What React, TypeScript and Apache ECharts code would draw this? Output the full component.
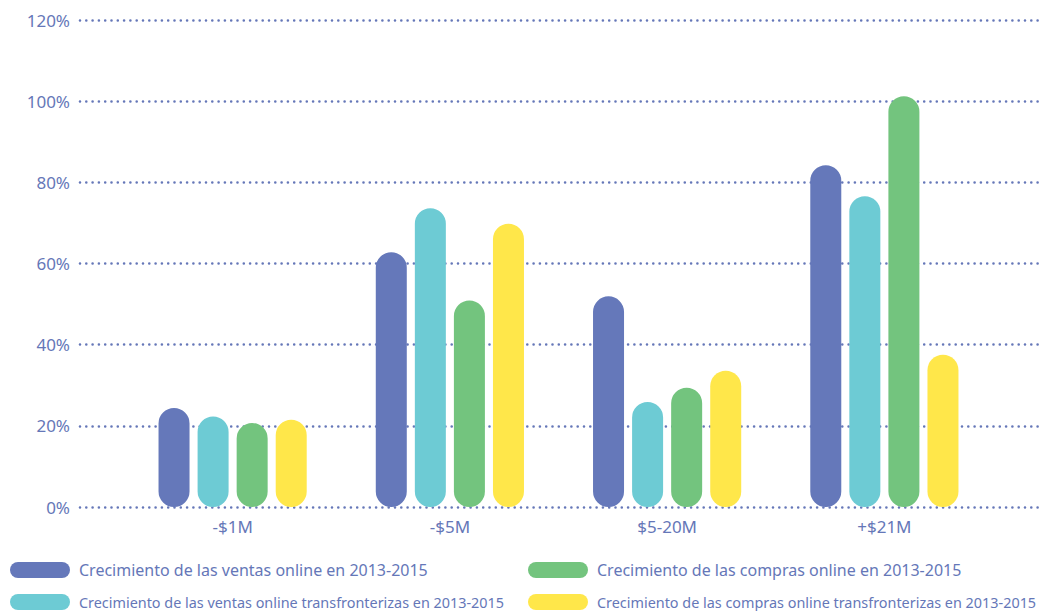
import React, { useEffect, useRef } from "react";
import * as echarts from "echarts";

const categories = ["-$1M", "-$5M", "$5-20M", "+$21M"];
const seriesNames = [
  "Crecimiento de las ventas online en 2013-2015",
  "Crecimiento de las ventas online transfronterizas en 2013-2015",
  "Crecimiento de las compras online en 2013-2015",
  "Crecimiento de las compras online transfronterizas en 2013-2015",
];
const ventas = [24.4, 62.8, 51.9, 84.2];
const ventasTransfronterizas = [22.3, 73.6, 25.9, 76.6];
const compras = [20.7, 50.9, 29.4, 101.2];
const comprasTransfronterizas = [21.5, 69.8, 33.6, 37.5];
const colors = ["#6578BA", "#6DCBD4", "#73C47E", "#FFE74A"];
const yTicks = [0, 20, 40, 60, 80, 100, 120];

const TEXT = "#6577B8";
const FONT = "'Noto Sans', sans-serif";
const pill = "path://M8,0 L52,0 A8,8 0 0 1 52,16 L8,16 A8,8 0 0 1 8,0 Z";

export default function App() {
  const ref = useRef<HTMLDivElement>(null);
  useEffect(() => {
    document.body.style.margin = "0";
    const chart = echarts.init(ref.current!, null, { renderer: "svg" });
    const data = [ventas, ventasTransfronterizas, compras, comprasTransfronterizas];
    const legendBase = {
      orient: "vertical",
      top: 562,
      padding: 0,
      itemWidth: 60,
      itemHeight: 16,
      itemGap: 16,
      icon: pill,
      textStyle: { color: TEXT, fontSize: 16, fontFamily: FONT, padding: [0, 0, 0, 4] },
    };
    const row1 = { color: TEXT, fontSize: 16, fontFamily: FONT };
    const row2 = { color: TEXT, fontSize: 14.4, fontFamily: FONT };
    chart.setOption({
      animation: false,
      textStyle: { fontFamily: FONT },
      grid: [
        { left: 80, right: 10, top: 20, bottom: 104 },
        { left: 124, right: 57, top: 20, bottom: 104 },
      ],
      xAxis: [
        { type: "value", gridIndex: 0, show: false, min: 0, max: 1 },
        {
          type: "category",
          gridIndex: 1,
          data: categories,
          axisLine: { show: false },
          axisTick: { show: false },
          axisLabel: { color: TEXT, fontSize: 17, margin: 11, fontFamily: FONT },
        },
      ],
      yAxis: [
        {
          type: "value",
          gridIndex: 0,
          min: yTicks[0],
          max: yTicks[yTicks.length - 1],
          interval: 20,
          axisLine: { show: false },
          axisTick: { show: false },
          axisLabel: {
            color: TEXT,
            fontSize: 17,
            margin: 10,
            fontFamily: FONT,
            formatter: (v: number) => v + "%",
          },
          splitLine: {
            show: true,
            lineStyle: { color: TEXT, width: 2.6, type: [0, 6.3], cap: "round" },
          },
        },
        {
          type: "value",
          gridIndex: 1,
          min: yTicks[0],
          max: yTicks[yTicks.length - 1],
          interval: 20,
          show: false,
          splitLine: { show: false },
        },
      ],
      legend: [
        {
          ...legendBase,
          data: [
            { name: seriesNames[0], textStyle: row1 },
            { name: seriesNames[1], textStyle: row2 },
          ],
          left: 10,
        },
        {
          ...legendBase,
          data: [
            { name: seriesNames[2], textStyle: row1 },
            { name: seriesNames[3], textStyle: row2 },
          ],
          left: 528,
        },
      ],
      series: seriesNames.map((name, i) => ({
        name,
        type: "bar",
        xAxisIndex: 1,
        yAxisIndex: 1,
        data: data[i],
        barWidth: 31,
        barGap: "26%",
        itemStyle: { color: colors[i], borderRadius: 15.5 },
      })),
    });
    return () => chart.dispose();
  }, []);
  return <div ref={ref} style={{ width: 1050, height: 611 }} />;
}
